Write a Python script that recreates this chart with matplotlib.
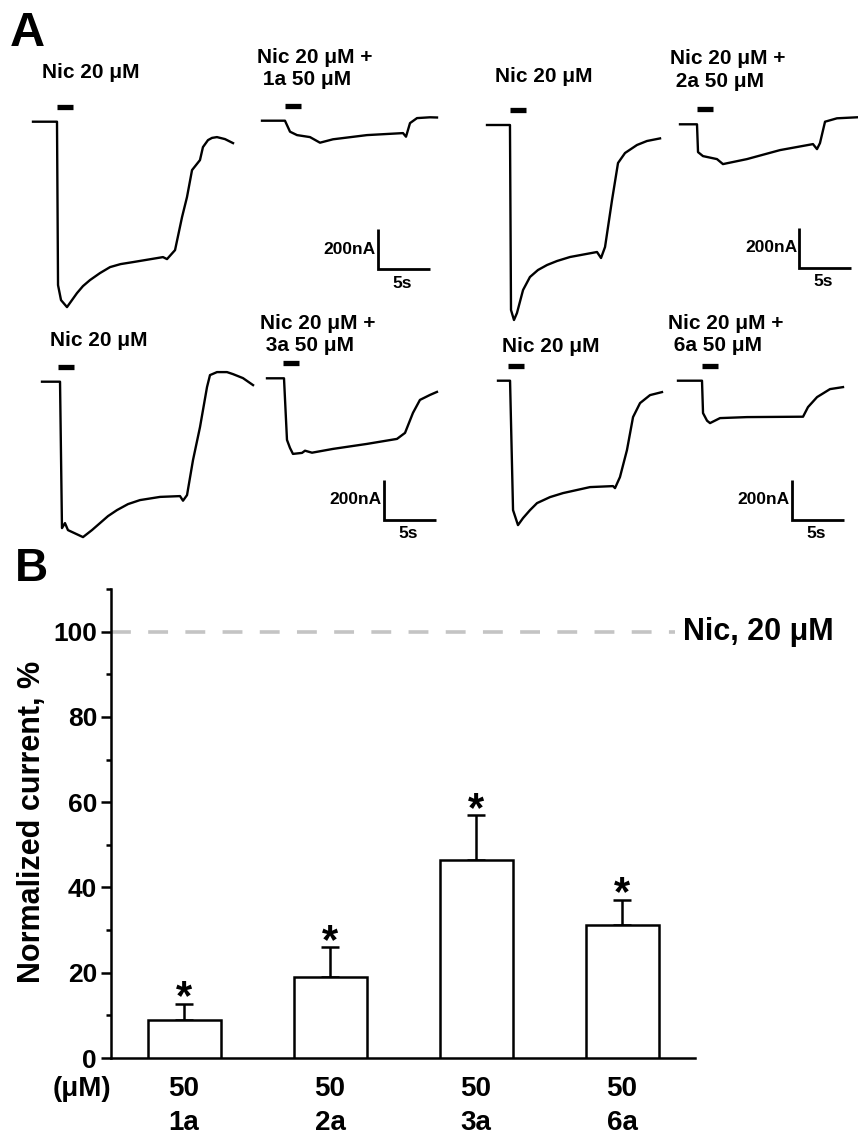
import matplotlib
matplotlib.use('Agg')
import matplotlib.pyplot as plt
import matplotlib.transforms as mtransforms
from matplotlib.ticker import MultipleLocator

plt.rcParams['font.family'] = ['Liberation Sans', 'DejaVu Sans']

# ---------------- Panel A data: time (s) and current (nA) ----------------
t1 = [0, 2.33, 2.43, 2.72, 3.30, 4.27, 4.85, 5.53, 6.50, 7.48, 8.50, 9.71, 12.62, 13.01, 13.79, 14.47, 14.95, 15.44, 16.21, 16.50, 16.99, 17.38, 17.86, 18.64, 19.42]
i1 = [0, 0, -817, -892, -927, -857, -822, -792, -757, -727, -712, -702, -677, -687, -642, -477, -377, -242, -192, -127, -92, -81, -77, -87, -107]

t2 = [0, 2.23, 2.72, 3.40, 4.66, 5.63, 6.89, 10.19, 13.69, 13.98, 14.37, 15.05, 16.31, 16.99]
i2 = [0, 0, -55, -72, -82, -110, -93, -72, -62, -80, -12, 13, 17, 16]

t3 = [0, 2.23, 2.33, 2.62, 2.91, 3.50, 4.17, 4.95, 5.83, 6.80, 8.06, 10.68, 11.07, 11.46, 12.14, 12.72, 13.40, 14.56, 15.53, 16.80]
i3 = [0, 0, -925, -975, -940, -825, -760, -725, -700, -680, -660, -635, -665, -610, -375, -190, -140, -100, -80, -67]

t4 = [0, 1.65, 1.75, 2.23, 3.59, 4.17, 6.50, 9.71, 12.91, 13.30, 13.59, 14.08, 15.24, 17.18]
i4 = [0, 0, -139, -159, -174, -199, -174, -129, -99, -124, -94, 13, 30, 35]

t5 = [0, 1.75, 1.94, 2.23, 2.52, 3.98, 4.85, 5.63, 6.41, 7.28, 8.35, 9.51, 11.46, 13.40, 13.69, 14.08, 14.66, 15.34, 16.02, 16.31, 16.99, 17.96, 18.54, 19.51, 20.49]
i5 = [0, 0, -732, -707, -742, -777, -742, -707, -672, -642, -612, -592, -576, -572, -595, -567, -392, -227, -27, 33, 48, 48, 38, 18, -17]

t6 = [0, 1.65, 1.94, 2.23, 2.52, 3.40, 3.69, 4.37, 6.41, 9.71, 12.62, 13.40, 14.17, 14.85, 15.83, 16.50]
i6 = [0, 0, -308, -348, -378, -373, -362, -372, -353, -328, -303, -273, -173, -108, -83, -68]

t7 = [0, 1.17, 1.46, 1.94, 2.43, 3.11, 3.79, 5.05, 6.31, 8.93, 11.17, 11.36, 11.84, 12.52, 13.11, 13.79, 14.76, 15.92]
i7 = [0, 0, -647, -722, -687, -647, -612, -582, -562, -532, -527, -537, -482, -347, -182, -112, -72, -57]

t8 = [0, 2.33, 2.43, 2.82, 3.11, 4.08, 6.70, 12.14, 12.62, 13.50, 14.76, 16.02]
i8 = [0, 0, -162, -200, -212, -187, -182, -180, -132, -82, -42, -32]

apply_start = [2.33, 2.23, 2.23, 1.65, 1.55, 1.55, 0.97, 2.33]  # s
apply_dur = 1.6  # s
trace_labels = ["Nic 20 μM", "Nic 20 μM +\n 1a 50 μM", "Nic 20 μM", "Nic 20 μM +\n 2a 50 μM",
                "Nic 20 μM", "Nic 20 μM +\n 3a 50 μM", "Nic 20 μM", "Nic 20 μM +\n 6a 50 μM"]
scale_nA = 200
scale_s = 5

# ---------------- Panel B data ----------------
compounds = ["1a", "2a", "3a", "6a"]
conc = ["50", "50", "50", "50"]
norm_current = [8.8, 19.1, 46.5, 31.2]
sem = [3.9, 6.9, 10.4, 5.9]
ref_level = 100

# ---------------- Figure ----------------
W, H = 858, 1142
fig = plt.figure(figsize=(W / 100, H / 100), dpi=100)

# overlay axes in pixel units for layout of panel A
axA = fig.add_axes([0, 0, 1, 1])
axA.set_xlim(0, W)
axA.set_ylim(H, 0)
axA.axis('off')

PX_PER_S = 10.3
PX_PER_NA = 0.2

traces = [(t1, i1), (t2, i2), (t3, i3), (t4, i4), (t5, i5), (t6, i6), (t7, i7), (t8, i8)]
origins = [(33, 121.7), (262, 120.7), (487, 125), (680, 124.3),
           (42, 381.7), (267, 378.3), (498, 380.7), (678, 380.7)]
label_pos = [(42, 72), (257, 68.5), (495, 76), (670, 70),
             (50, 340), (260, 334.5), (502, 347), (668, 334.5)]

for k, ((tt, ii), (x0, y0)) in enumerate(zip(traces, origins)):
    tr = mtransforms.Affine2D().scale(PX_PER_S, -PX_PER_NA).translate(x0, y0) + axA.transData
    axA.plot(tt, ii, color='black', lw=1.7, transform=tr, solid_joinstyle='round')
    # application bar
    axA.plot([apply_start[k], apply_start[k] + apply_dur], [75, 75], color='black',
             lw=3.8, solid_capstyle='butt', transform=tr)
    lx, ly = label_pos[k]
    axA.text(lx, ly, trace_labels[k], fontsize=15, fontweight='bold', ha='left', va='center',
             linespacing=1.25)

# scale bars
sb_anchor = [(378, 269), (799, 268), (384, 520), (792, 520)]
for (sx, sy) in sb_anchor:
    tr = mtransforms.Affine2D().scale(PX_PER_S, -PX_PER_NA).translate(sx, sy) + axA.transData
    axA.plot([0, 0, scale_s], [scale_nA, 0, 0], color='black', lw=2.0, transform=tr,
             solid_joinstyle='miter', solid_capstyle='butt')
    axA.text(sx - 2, sy - 20, f"{scale_nA}nA", fontsize=12.5, fontweight='bold', ha='right', va='center')
    axA.text(sx + 24, sy + 14, f"{scale_s}s", fontsize=12.5, fontweight='bold', ha='center', va='center')

axA.text(10, 33, "A", fontsize=35, fontweight='bold', ha='left', va='center')
axA.text(15, 569, "B", fontsize=33, fontweight='bold', ha='left', va='center')

# ---------------- Panel B ----------------
ax = fig.add_axes([111 / W, 84 / H, 584 / W, 469 / H])
x = list(range(len(compounds)))
ax.bar(x, norm_current, width=0.5, facecolor='white', edgecolor='black', linewidth=1.8, zorder=3)
ax.errorbar(x, norm_current, yerr=[[0] * len(sem), sem], fmt='none', ecolor='black',
            elinewidth=1.8, capsize=6.5, capthick=1.8, zorder=2)
for xi, v, e in zip(x, norm_current, sem):
    ax.text(xi, v + e - 1.3, "*", fontsize=30, fontweight='bold', ha='center', va='baseline')

ax.plot([-0.5, 3.36], [ref_level, ref_level], color='#c4c4c4', lw=2.6,
        dashes=(5.5, 4.8), zorder=1, clip_on=False)
ax.text(3.418, ref_level, "Nic, 20 μM", fontsize=22, fontweight='bold', ha='left', va='center')

ax.set_xlim(-0.5, 3.5)
ax.set_ylim(0, 110)
ax.spines['top'].set_visible(False)
ax.spines['right'].set_visible(False)
ax.spines['left'].set_linewidth(1.8)
ax.spines['bottom'].set_linewidth(1.8)
ax.set_xticks([])
ax.yaxis.set_major_locator(MultipleLocator(20))
ax.yaxis.set_minor_locator(MultipleLocator(10))
ax.tick_params(axis='y', which='major', direction='out', length=7, width=1.8, pad=3, labelsize=19)
ax.tick_params(axis='y', which='minor', direction='out', length=3.6, width=1.8)
for lab in ax.get_yticklabels():
    lab.set_fontweight('bold')

blend = mtransforms.blended_transform_factory(ax.transData, axA.transData)
for xi, c, n in zip(x, conc, compounds):
    ax.text(xi, 1089, c, transform=blend, fontsize=20, fontweight='bold', ha='center', va='center', clip_on=False)
    ax.text(xi, 1123, n, transform=blend, fontsize=20, fontweight='bold', ha='center', va='center', clip_on=False)
axA.text(82, 1089, "(μM)", fontsize=20, fontweight='bold', ha='center', va='center')
axA.text(32, 822, "Normalized current, %", fontsize=22, fontweight='bold', rotation=90,
         ha='center', va='center')

fig.savefig('out.png', dpi=100)
